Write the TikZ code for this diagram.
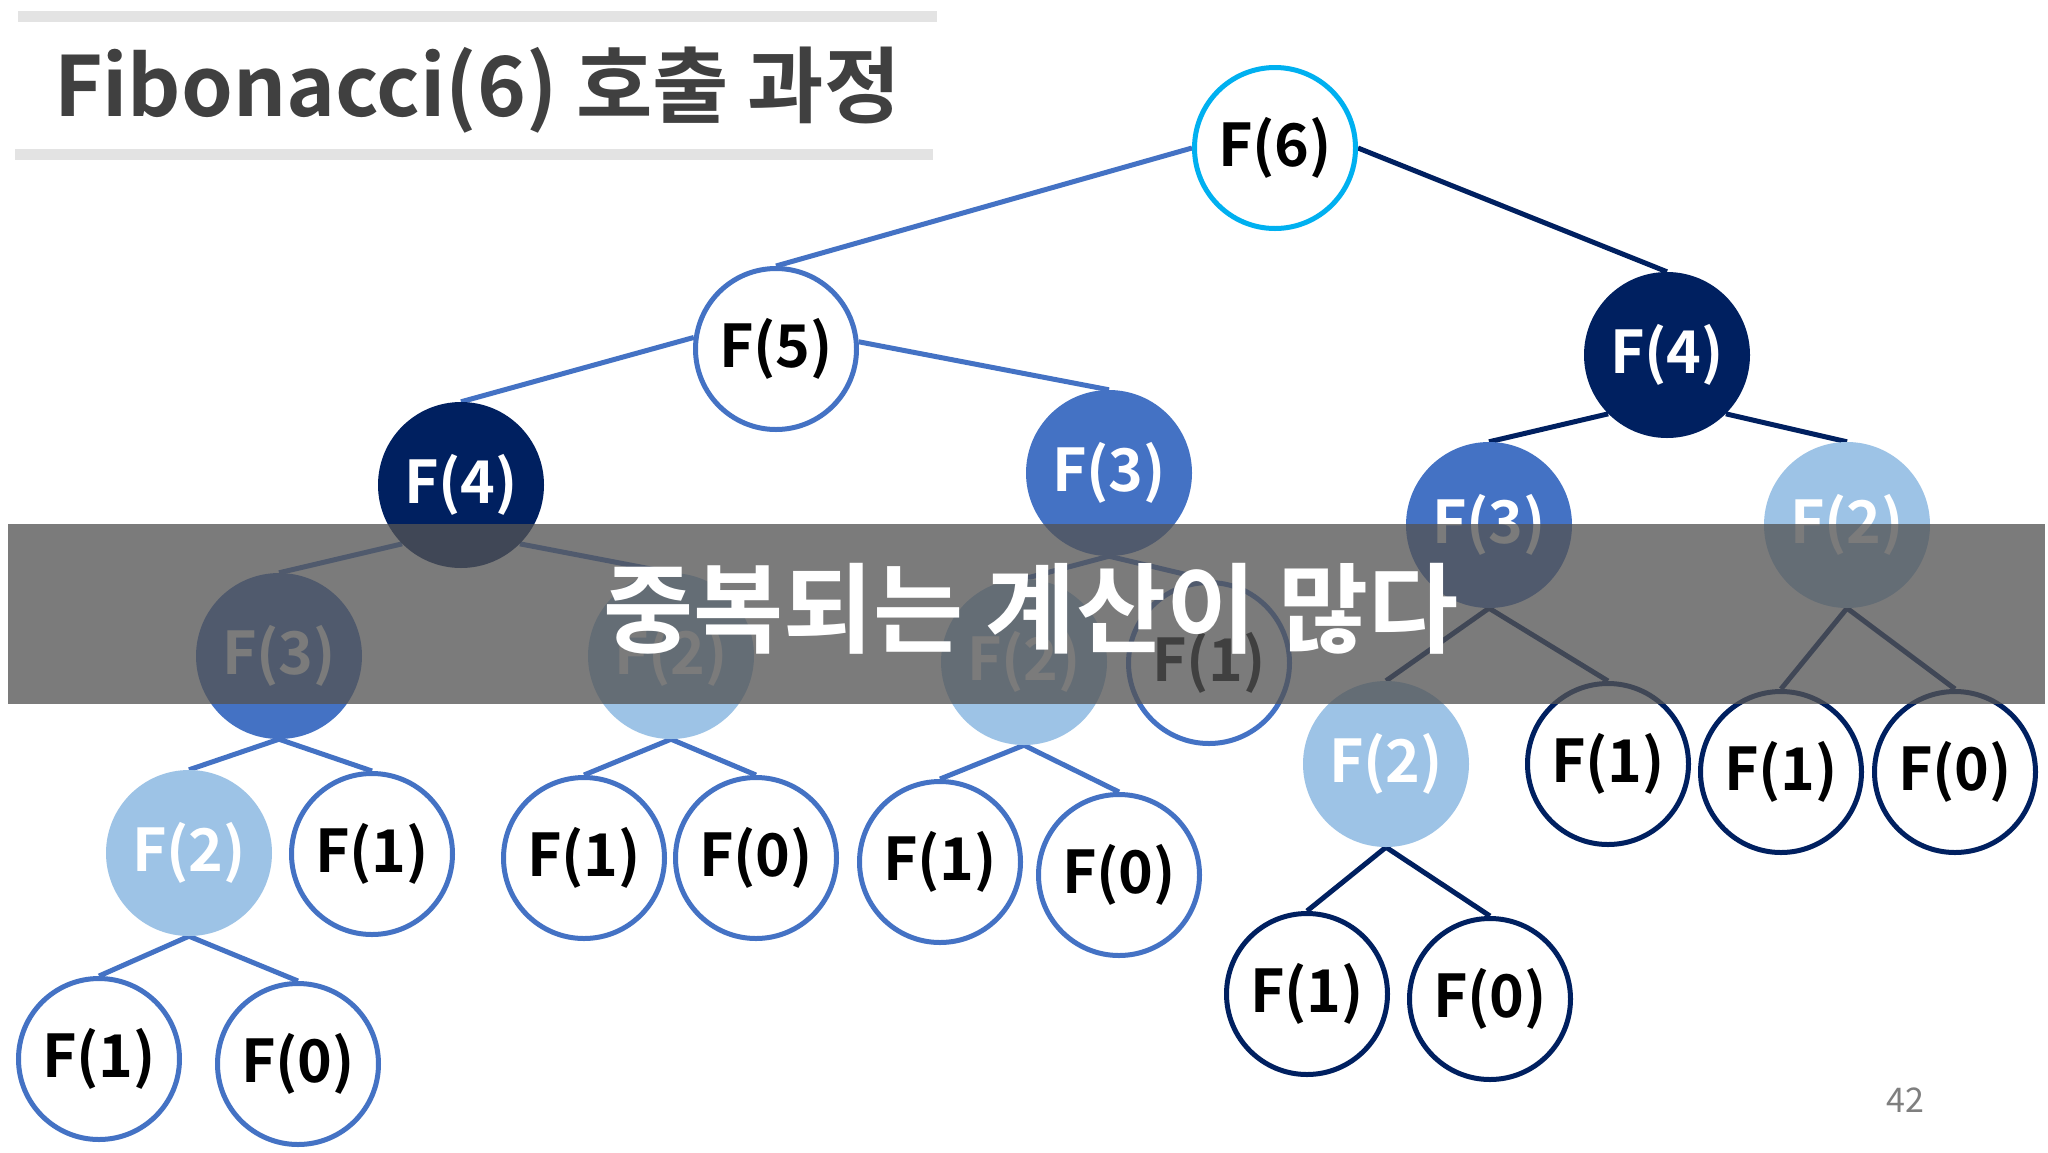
\documentclass[tikz,border=0pt]{standalone}
\usepackage{fontspec}
\newfontfamily\kr{Noto Sans CJK KR}
\newfontfamily\krb{Noto Sans CJK KR Bold}
\definecolor{cyanB}{HTML}{00B0F0}
\definecolor{blueM}{HTML}{4472C4}
\definecolor{navyD}{HTML}{002060}
\definecolor{lightB}{HTML}{9DC3E6}
\definecolor{titleG}{HTML}{404040}
\definecolor{barG}{HTML}{E3E3E3}
\definecolor{pageG}{HTML}{7F7F7F}
\definecolor{shadeG}{RGB}{84,84,84}
\pgfdeclarelayer{bg}
\pgfdeclarelayer{fg}
\pgfsetlayers{bg,main,fg}
\tikzset{
  fnode/.style={circle, inner sep=0pt, font=\krb\fontsize{59}{60}\selectfont},
  wblue/.style={fnode, minimum size=161pt, line width=5pt, draw=blueM, fill=white, text=black},
  wnavy/.style={fnode, minimum size=161pt, line width=5pt, draw=navyD, fill=white, text=black},
  wcyan/.style={fnode, minimum size=161pt, line width=5pt, draw=cyanB, fill=white, text=black},
  fnavy/.style={fnode, minimum size=166pt, fill=navyD, text=white},
  fblue/.style={fnode, minimum size=166pt, fill=blueM, text=white},
  flight/.style={fnode, minimum size=166pt, fill=lightB, text=white},
  eblue/.style={draw=blueM, line width=5pt},
  enavy/.style={draw=navyD, line width=5pt},
  bar/.style={fill=barG, draw=none}
}
\begin{document}
\begin{tikzpicture}[x=1pt, y=-1pt]
\useasboundingbox (0,0) rectangle (2048,1152);
\begin{pgfonlayer}{bg}
\fill[white] (0,0) rectangle (2048,1152);
\end{pgfonlayer}

% title
\fill[bar] (18,11) rectangle (937,22);
\fill[bar] (15,149) rectangle (933,160);
\node[anchor=base west, inner sep=0pt, text=titleG, font=\krb\fontsize{83}{90}\selectfont] (title) at (54,116) {Fibonacci(6) 호출 과정};

% nodes
\node[wcyan]  (f6)  at (1275,148) {F(6)};
\node[wblue]  (f5)  at (776,349)  {F(5)};
\node[fnavy]  (f4r) at (1667,355) {F(4)};
\node[fnavy]  (f4l) at (461,485)  {F(4)};
\node[fblue]  (f3m) at (1109,473) {F(3)};
\node[fblue]  (f3r) at (1489,525) {F(3)};
\node[flight] (f2r) at (1847,525) {F(2)};
\node[fblue]  (f3l) at (279,656)  {F(3)};
\node[flight] (f2a) at (671,656)  {F(2)};
\node[flight] (f2b) at (1024,662) {F(2)};
\node[wblue]  (f1a) at (1209,663) {F(1)};
\node[flight] (f2c) at (1386,764) {F(2)};
\node[wnavy]  (f1b) at (1608,764) {F(1)};
\node[wnavy]  (f1c) at (1781,772) {F(1)};
\node[wnavy]  (f0c) at (1955,772) {F(0)};
\node[flight] (f2d) at (189,853)  {F(2)};
\node[wblue]  (f1d) at (372,854)  {F(1)};
\node[wblue]  (f1e) at (584,858)  {F(1)};
\node[wblue]  (f0e) at (756,858)  {F(0)};
\node[wblue]  (f1f) at (940,862)  {F(1)};
\node[wblue]  (f0f) at (1119,875) {F(0)};
\node[wnavy]  (f1g) at (1307,994) {F(1)};
\node[wnavy]  (f0g) at (1490,999) {F(0)};
\node[wblue]  (f1h) at (99,1059)  {F(1)};
\node[wblue]  (f0h) at (298,1064) {F(0)};

% edges
\begin{pgfonlayer}{bg}
\draw[eblue] (f6.west) -- (f5.north);
\draw[enavy] (f6.east) -- (f4r.north);
\draw[eblue] (f5.172) -- (f4l.north);
\draw[eblue] (f5.5) -- (f3m.north);
\draw[enavy] (f4r.south west) -- (f3r.north);
\draw[enavy] (f4r.south east) -- (f2r.north);
\draw[eblue] (f4l.south west) -- (f3l.north);
\draw[eblue] (f4l.south east) -- (f2a.north);
\draw[eblue] (f3m.south) -- (f2b.north);
\draw[eblue] (f3m.south) -- (f1a.north);
\draw[enavy] (f3r.south) -- (f2c.north);
\draw[enavy] (f3r.south) -- (f1b.north);
\draw[enavy] (f2r.south) -- (f1c.north);
\draw[enavy] (f2r.south) -- (f0c.north);
\draw[eblue] (f3l.south) -- (f2d.north);
\draw[eblue] (f3l.south) -- (f1d.north);
\draw[eblue] (f2a.south) -- (f1e.north);
\draw[eblue] (f2a.south) -- (f0e.north);
\draw[eblue] (f2b.south) -- (f1f.north);
\draw[eblue] (f2b.south) -- (f0f.north);
\draw[enavy] (f2c.south) -- (f1g.north);
\draw[enavy] (f2c.south) -- (f0g.north);
\draw[eblue] (f2d.south) -- (f1h.north);
\draw[eblue] (f2d.south) -- (f0h.north);
\end{pgfonlayer}

% overlay band
\begin{pgfonlayer}{fg}
\fill[shadeG, opacity=0.77] (8,524) rectangle (2045,704);
\node[anchor=base, inner sep=0pt, text=white, font=\krb\fontsize{98}{110}\selectfont] (banner) at (1031,645) {중복되는 계산이 많다};
\end{pgfonlayer}

% page number
\node[anchor=base, inner sep=0pt, text=pageG, font=\kr\fontsize{34}{40}\selectfont] (page) at (1905,1112) {42};
\end{tikzpicture}
\end{document}
